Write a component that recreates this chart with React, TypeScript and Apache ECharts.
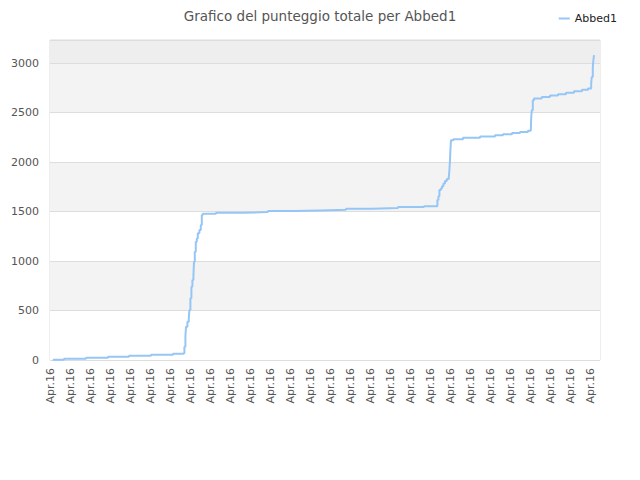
import React, { useEffect, useRef } from 'react';
import * as echarts from 'echarts';

const title = 'Grafico del punteggio totale per Abbed1';
const seriesName = 'Abbed1';
const dateLabel = 'Apr.16';

// progressive index along the x axis and cumulative score at that point
const xs = [
  1.4, 7, 18, 29, 39.5, 50.5, 61.5, 66.5, 67.2, 67.7, 68, 68.7, 69.4, 69.7, 70.2, 70.7,
  71.2, 71.7, 72, 72.4, 72.9, 73.4, 73.9, 74.7, 75.4, 75.9, 76.4, 83, 96, 109, 122, 135,
  148, 161, 174, 187, 193.7, 194.2, 194.7, 195.4, 196, 196.7, 197.5, 198.4, 199.4, 199.7,
  200, 200.2, 200.5, 201.7, 206.5, 215, 222.5, 226.5, 231, 235, 239, 240.4, 240.6, 240.9,
  241.4, 242, 245.9, 250, 254, 258, 262, 266, 269, 270.6, 270.9, 271.4, 271.7, 272,
];
const scores = [
  3, 13, 23, 33, 43, 53, 63, 70, 134, 235, 336, 387, 421, 505, 623, 740,
  808, 841, 993, 1094, 1195, 1229, 1280, 1313, 1364, 1465, 1478, 1488, 1495, 1505, 1512, 1518,
  1528, 1535, 1545, 1555, 1616, 1656, 1717, 1734, 1757, 1785, 1808, 1828, 1851, 1919,
  2020, 2121, 2222, 2232, 2245, 2260, 2272, 2282, 2295, 2305, 2318, 2323, 2450, 2525,
  2626, 2643, 2659, 2672, 2685, 2700, 2715, 2730, 2744, 2800, 2861, 2962, 3030, 3080,
];
const bandColors = ['#ffffff', '#f3f3f3', '#ffffff', '#f3f3f3', '#ffffff', '#f3f3f3', '#eeeeee'];

export default function App() {
  const ref = useRef<HTMLDivElement>(null);
  useEffect(() => {
    document.body.style.margin = '0';
    if (!ref.current) return;
    const chart = echarts.init(ref.current, null, { renderer: 'svg' });
    const maxY = Math.max(...scores) * 1.05;
    chart.setOption({
      animation: false,
      textStyle: { fontFamily: 'DejaVu Sans' },
      title: {
        text: title,
        left: 'center',
        top: 4,
        textStyle: { fontSize: 13.5, fontWeight: 'normal', color: '#555', fontFamily: 'DejaVu Sans' },
      },
      legend: {
        data: [{ name: seriesName, icon: 'rect' }],
        right: 18,
        top: 8,
        itemWidth: 11,
        itemHeight: 2,
        itemGap: 8,
        textStyle: { fontSize: 11, color: '#222' },
      },
      grid: {
        left: 50, right: 40, top: 40, bottom: 120,
        containLabel: false,
        show: true, borderColor: '#dcdcdc', borderWidth: 1, backgroundColor: 'transparent',
      },
      xAxis: {
        type: 'value',
        min: 0,
        max: 275,
        interval: 10,
        axisLine: { show: false },
        axisTick: { show: false },
        splitLine: { show: false },
        axisLabel: {
          rotate: 90,
          margin: 8,
          fontSize: 11,
          color: '#555',
          showMaxLabel: false,
          formatter: () => dateLabel,
        },
      },
      yAxis: {
        type: 'value',
        min: 0,
        max: maxY,
        interval: 500,
        axisLine: { show: false },
        axisTick: { show: false },
        splitLine: { show: true, lineStyle: { color: '#dddddd' } },
        splitArea: { show: true, areaStyle: { color: bandColors } },
        axisLabel: {
          fontSize: 11,
          color: '#555',
          margin: 11,
          showMaxLabel: false,
          formatter: (v: number) => String(v),
        },
      },
      series: [
        {
          name: seriesName,
          type: 'line',
          step: 'end',
          showSymbol: false,
          data: xs.map((x, i) => [x, scores[i]]),
          lineStyle: { color: '#96c6f6', width: 2 },
          itemStyle: { color: '#96c6f6' },
        },
      ],
    });
    return () => chart.dispose();
  }, []);
  return <div ref={ref} style={{ width: 640, height: 480 }} />;
}
